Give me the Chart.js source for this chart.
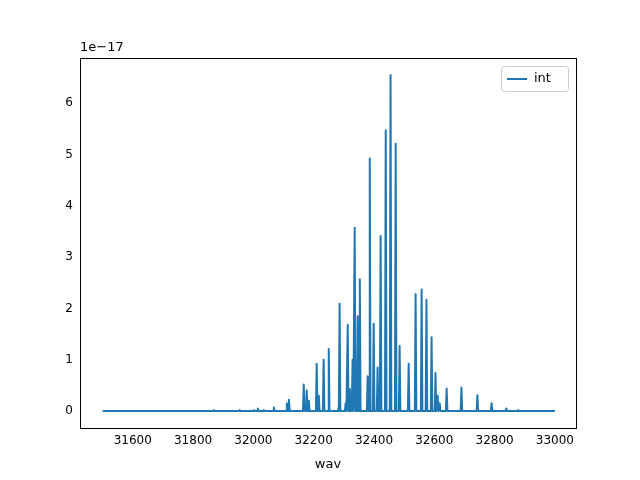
<!DOCTYPE html>
<html>
<head>
<script src="https://cdn.jsdelivr.net/npm/chart.js@4"></script>
<style>body{margin:0;background:#fff}#wrap{width:640px;height:480px}</style>
</head>
<body>
<div id="wrap"><canvas id="c" width="640" height="480"></canvas></div>
<script>
// line centres (wav) and peak intensities (x 1e-17)
const peakWav = [31869, 31955, 32002, 32015, 32035, 32068, 32111, 32118, 32167, 32177, 32184,
    32210, 32217, 32233, 32250, 32283, 32286, 32306, 32313, 32320, 32329, 32336, 32346, 32353,
    32379, 32386, 32399, 32412, 32422, 32439, 32455, 32472, 32485, 32515, 32538, 32558, 32574,
    32591, 32604, 32611, 32618, 32641, 32690, 32743, 32790, 32839, 32879];
const peakInt = [0.02, 0.02, 0.02, 0.05, 0.02, 0.07, 0.15, 0.22, 0.52, 0.4, 0.2,
    0.92, 0.3, 1.0, 1.21, 0.08, 2.09, 0.15, 1.68, 0.43, 1.0, 3.57, 1.85, 2.57,
    0.68, 4.92, 1.7, 0.85, 3.41, 5.47, 6.55, 5.21, 1.27, 0.92, 2.28, 2.37, 2.17,
    1.44, 0.74, 0.3, 0.15, 0.44, 0.46, 0.31, 0.15, 0.05, 0.02];
const wavStart = 31500;
const wavEnd = 33000;
const xTicks = [31600, 31800, 32000, 32200, 32400, 32600, 32800, 33000];
const yTicks = [0, 1, 2, 3, 4, 5, 6];

const points = [{ x: wavStart, y: 0 }];
peakWav.forEach((w, i) => {
    points.push({ x: w - 2.5, y: 0 }, { x: w, y: peakInt[i] }, { x: w + 2.5, y: 0 });
});
points.push({ x: wavEnd, y: 0 });

const decorations = {
    id: "decorations",
    afterDraw(chart) {
        const c = chart.ctx;
        const a = chart.chartArea;
        c.save();
        c.strokeStyle = "#000";
        c.lineWidth = 1;
        c.strokeRect(a.left + 0.5, a.top + 0.5, a.right - a.left, a.bottom - a.top);
        c.font = "13px 'DejaVu Sans'";
        c.fillStyle = "#000";
        c.textBaseline = "bottom";
        c.fillText("1e\u221217", a.left, a.top - 4);
        // legend
        const lx = a.right - 75, ly = a.top + 8;
        c.strokeStyle = "#ccc";
        c.fillStyle = "rgba(255,255,255,0.8)";
        c.beginPath();
        c.roundRect(lx + 0.5, ly + 0.5, 67, 25, 3);
        c.fill();
        c.stroke();
        c.strokeStyle = "#1f77b4";
        c.lineWidth = 2;
        c.beginPath();
        c.moveTo(lx + 6, ly + 13);
        c.lineTo(lx + 26, ly + 13);
        c.stroke();
        c.fillStyle = "#000";
        c.textBaseline = "middle";
        c.fillText("int", lx + 33, ly + 13);
        c.restore();
    }
};

new Chart(document.getElementById("c"), {
    type: "line",
    data: {
        datasets: [{
            label: "int",
            data: points,
            borderColor: "#1f77b4",
            borderWidth: 2,
            borderJoinStyle: "round",
            pointRadius: 0,
            tension: 0
        }]
    },
    options: {
        responsive: false,
        animation: false,
        layout: { padding: { left: 0, right: 64, top: 58, bottom: 0 } },
        plugins: { legend: { display: false }, tooltip: { enabled: false } },
        scales: {
            x: {
                type: "linear",
                min: 31425, max: 33070,
                afterBuildTicks: (ax) => { ax.ticks = xTicks.map(v => ({ value: v })); },
                afterFit: (ax) => { ax.height = 52; },
                grid: { display: false, drawTicks: true, tickLength: 4, tickColor: "#000" },
                border: { color: "#000" },
                ticks: { color: "#000", font: { family: "DejaVu Sans", size: 12 }, maxRotation: 0, padding: 2, callback: v => String(v) },
                title: { display: true, text: "wav", color: "#000", font: { family: "DejaVu Sans", size: 13 }, padding: { top: 2, bottom: 8 } }
            },
            y: {
                min: -0.33, max: 6.88,
                afterBuildTicks: (ax) => { ax.ticks = yTicks.map(v => ({ value: v })); },
                afterFit: (ax) => { ax.width = 80; },
                grid: { display: false, drawTicks: true, tickLength: 4, tickColor: "#000" },
                border: { color: "#000" },
                ticks: { color: "#000", font: { family: "DejaVu Sans", size: 12 } }
            }
        }
    },
    plugins: [decorations]
});
</script>
</body>
</html>
